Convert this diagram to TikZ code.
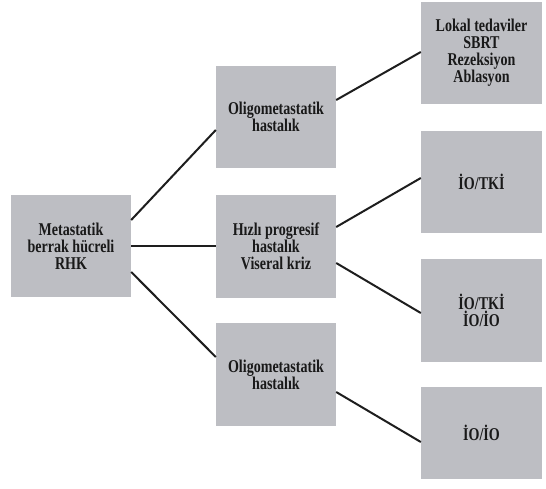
\documentclass[tikz,border=0pt]{standalone}
\usepackage{fontspec}
\setmainfont{Liberation Serif}[FakeStretch=0.78]
\definecolor{boxgray}{RGB}{189,190,195}
\definecolor{linegray}{RGB}{30,30,30}
\tikzset{
  box/.style={fill=boxgray, draw=none, minimum width=120pt, align=center,
    font=\bfseries\fontsize{18}{17}\selectfont, text=black!90, inner sep=0pt},
  conn/.style={draw=linegray, line width=2pt}
}
\begin{document}
\begin{tikzpicture}[x=1pt,y=-1pt]
\useasboundingbox (0,0) rectangle (546,489);
\node[box, minimum height=102pt] (L) at (71,246) {Metastatik\\berrak hücreli\\RHK};
\node[box, minimum height=102pt] (M1) at (276,117) {Oligometastatik\\hastalık};
\node[box, minimum height=103pt] (M2) at (276,246.5) {Hızlı progresif\\hastalık\\Viseral kriz};
\node[box, minimum height=103pt] (M3) at (276,374.5) {Oligometastatik\\hastalık};
\node[box, minimum width=121pt, minimum height=102pt] (R1) at (481.5,53) {Lokal tedaviler\\SBRT\\Rezeksiyon\\Ablasyon};
\node[box, minimum width=121pt, minimum height=102pt] (R2) at (481.5,182) {İO/TKİ};
\node[box, minimum width=121pt, minimum height=103pt] (R3) at (481.5,310.5) {İO/TKİ\\İO/İO};
\node[box, minimum width=121pt, minimum height=92pt] (R4) at (481.5,433) {İO/İO};
\draw[conn] ([yshift=26pt]L.east) -- ([yshift=-13pt]M1.west);
\draw[conn] (L.east) -- (L.east -| M2.west);
\draw[conn] ([yshift=-26pt]L.east) -- ([yshift=17.5pt]M3.west);
\draw[conn] ([yshift=17pt]M1.east) -- ([yshift=1pt]R1.west);
\draw[conn] ([yshift=19.5pt]M2.east) -- ([yshift=4pt]R2.west);
\draw[conn] ([yshift=-16.5pt]M2.east) -- ([yshift=-2.5pt]R3.west);
\draw[conn] ([yshift=-17.5pt]M3.east) -- ([yshift=-9pt]R4.west);
\end{tikzpicture}
\end{document}
